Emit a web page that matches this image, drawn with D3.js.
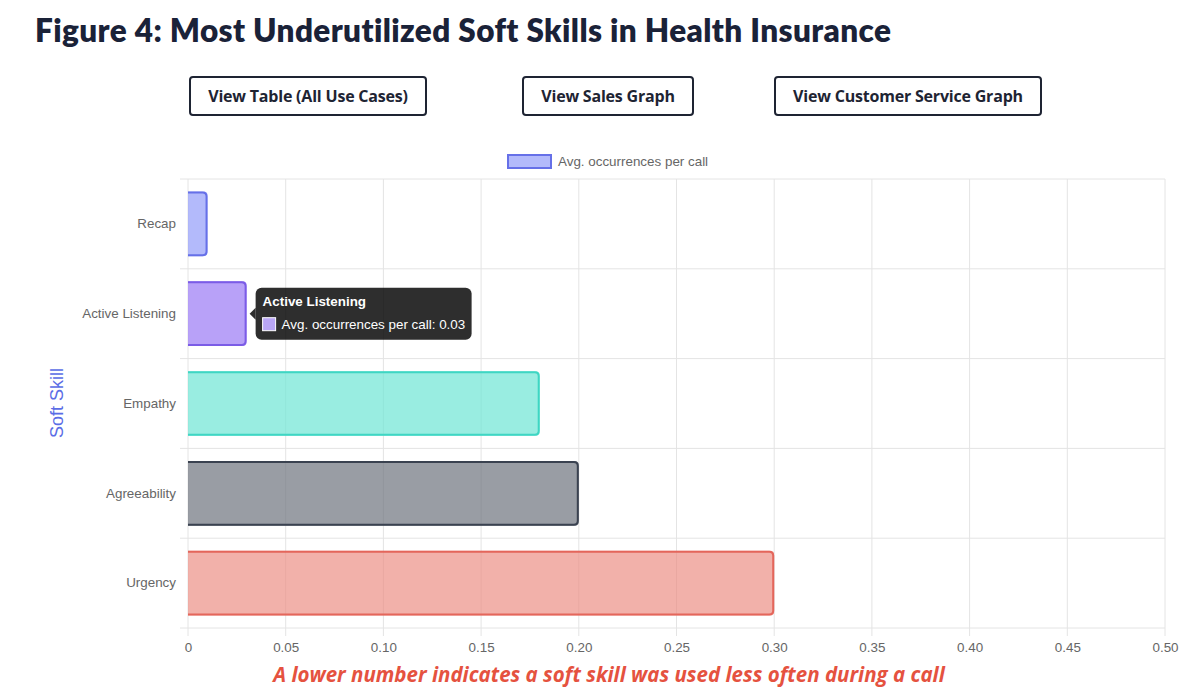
<!DOCTYPE html>
<html>
<head>
<meta charset="utf-8">
<script src="https://cdn.jsdelivr.net/npm/d3@7"></script>
<style>
  html, body { margin: 0; padding: 0; background: #fff; }
  svg { display: block; }
</style>
</head>
<body>
<svg id="chart" width="1200" height="693"></svg>
<script>
// ---- data ----
const categories = ["Recap", "Active Listening", "Empathy", "Agreeability", "Urgency"];
const values = [0.01, 0.03, 0.18, 0.20, 0.30];
const fillColors = ["rgba(150,160,250,0.72)", "rgba(160,130,245,0.75)", "rgba(110,230,212,0.70)", "rgba(110,116,126,0.70)", "rgba(236,140,130,0.68)"];
const borderColors = ["#6670e8", "#7b5ce6", "#3fd6c3", "#3a4250", "#e4665b"];
const xTicks = [0, 0.05, 0.10, 0.15, 0.20, 0.25, 0.30, 0.35, 0.40, 0.45, 0.50];
const buttonLabels = ["View Table (All Use Cases)", "View Sales Graph", "View Customer Service Graph"];
const titleText = "Figure 4: Most Underutilized Soft Skills in Health Insurance";
const seriesName = "Avg. occurrences per call";
const yTitle = "Soft Skill";
const footnote = "A lower number indicates a soft skill was used less often during a call";
const tooltipIndex = 1;

(function () {
const svg = d3.select("#chart");
const FS = 13.4;
const FF = "Arial, 'Liberation Sans', sans-serif";

// title
svg.append("text")
  .attr("x", 35).attr("y", 42)
  .attr("font-family", "Lato, 'Open Sans', sans-serif")
  .attr("font-weight", 800)
  .attr("font-size", 31.5)
  .attr("letter-spacing", 0.38)
  .attr("fill", "#1a2238")
  .text(titleText);

// buttons
const buttons = [
  {x: 189, w: 238}, {x: 522, w: 172}, {x: 774, w: 268}
];
buttons.forEach((b, i) => {
  svg.append("rect")
    .attr("x", b.x + 1).attr("y", 77).attr("width", b.w - 2).attr("height", 38)
    .attr("rx", 3).attr("fill", "#fff").attr("stroke", "#1e2433").attr("stroke-width", 2);
  svg.append("text")
    .attr("x", b.x + b.w / 2).attr("y", 102)
    .attr("text-anchor", "middle")
    .attr("font-family", "'Open Sans', sans-serif")
    .attr("font-weight", 700).attr("font-size", 16)
    .attr("fill", "#1e2433")
    .attr("letter-spacing", -0.2)
    .text(buttonLabels[i]);
});

// chart area
const pL = 188, pR = 1165, pT = 179, pB = 628;
const x = d3.scaleLinear().domain([0, 0.5]).range([pL, pR]);
const y = d3.scaleBand().domain(categories).range([pT, pB]);

// gridlines
const grid = svg.append("g");
xTicks.forEach(t => {
  grid.append("line")
    .attr("x1", x(t)).attr("x2", x(t)).attr("y1", pT).attr("y2", pB + 8)
    .attr("stroke", "#e4e4e4").attr("stroke-width", 1);
});
const bandEdges = categories.map(c => y(c)).concat([pB]);
bandEdges.forEach(v => {
  grid.append("line")
    .attr("x1", pL - 8).attr("x2", pR).attr("y1", v).attr("y2", v)
    .attr("stroke", "#e4e4e4").attr("stroke-width", 1);
});

// axes (tick labels via d3 axis)
const xAxis = svg.append("g")
  .attr("transform", `translate(0,${pB})`)
  .call(d3.axisBottom(x).tickValues(xTicks).tickSize(0).tickPadding(14)
    .tickFormat(d => d === 0 ? "0" : d3.format(".2f")(d)));
xAxis.select(".domain").remove();
xAxis.selectAll("text")
  .attr("font-family", FF)
  .attr("font-size", FS).attr("fill", "#666");

const yAxis = svg.append("g")
  .attr("transform", `translate(${pL},0)`)
  .call(d3.axisLeft(y).tickSize(0).tickPadding(12));
yAxis.select(".domain").remove();
yAxis.selectAll("text")
  .attr("font-family", FF)
  .attr("font-size", FS).attr("fill", "#666");

// bars
const barH = y.bandwidth() * 0.72;
const r = 4;
function barPath(x0, x1, yc, h) {
  const y0 = yc - h / 2, y1 = yc + h / 2;
  const rr = Math.min(r, (x1 - x0) / 2);
  return `M${x0},${y0} L${x1 - rr},${y0} Q${x1},${y0} ${x1},${y0 + rr} L${x1},${y1 - rr} Q${x1},${y1} ${x1 - rr},${y1} L${x0},${y1}`;
}
categories.forEach((c, i) => {
  const yc = y(c) + y.bandwidth() / 2;
  const x0 = x(0), x1 = x(values[i]);
  svg.append("path")
    .attr("d", barPath(x0, x1, yc, barH) + " Z")
    .attr("fill", fillColors[i]);
  svg.append("path")
    .attr("d", barPath(x0, x1 - 1, yc, barH - 2))
    .attr("fill", "none").attr("stroke", borderColors[i]).attr("stroke-width", 2);
});

// y title
svg.append("text")
  .attr("transform", `translate(63,403) rotate(-90)`)
  .attr("text-anchor", "middle")
  .attr("font-family", FF)
  .attr("font-size", 18).attr("fill", "#5b6de6")
  .text(yTitle);

// legend
svg.append("rect")
  .attr("x", 508).attr("y", 155).attr("width", 43).attr("height", 13)
  .attr("fill", fillColors[0]).attr("stroke", borderColors[0]).attr("stroke-width", 2);
svg.append("text")
  .attr("x", 558).attr("y", 166)
  .attr("font-family", FF)
  .attr("font-size", FS).attr("fill", "#666")
  .text(seriesName);

// tooltip
const tc = categories[tooltipIndex];
const tyc = y(tc) + y.bandwidth() / 2;
const tx = x(values[tooltipIndex]) + 9;
const tip = svg.append("g");
tip.append("rect")
  .attr("x", tx).attr("y", tyc - 26).attr("width", 216).attr("height", 52)
  .attr("rx", 6).attr("fill", "rgba(0,0,0,0.82)");
tip.append("path")
  .attr("d", `M${tx},${tyc - 6} L${tx - 6},${tyc} L${tx},${tyc + 6} Z`)
  .attr("fill", "rgba(0,0,0,0.82)");
tip.append("text")
  .attr("x", tx + 7).attr("y", tyc - 8)
  .attr("font-family", FF)
  .attr("font-weight", 700).attr("font-size", FS).attr("fill", "#fff")
  .text(tc);
tip.append("rect")
  .attr("x", tx + 7).attr("y", tyc + 4).attr("width", 13).attr("height", 13)
  .attr("fill", "#b9a6f6").attr("stroke", "#fff").attr("stroke-width", 1);
tip.append("text")
  .attr("x", tx + 26).attr("y", tyc + 15)
  .attr("font-family", FF)
  .attr("font-size", FS).attr("fill", "#fff")
  .text(`${seriesName}: ${values[tooltipIndex]}`);

// footnote
svg.append("text")
  .attr("x", 609).attr("y", 682)
  .attr("text-anchor", "middle")
  .attr("font-family", "'Open Sans', sans-serif")
  .attr("font-weight", 700).attr("font-style", "italic")
  .attr("font-size", 20.5).attr("fill", "#e5523f")
  .text(footnote);
})();
</script>
</body>
</html>
